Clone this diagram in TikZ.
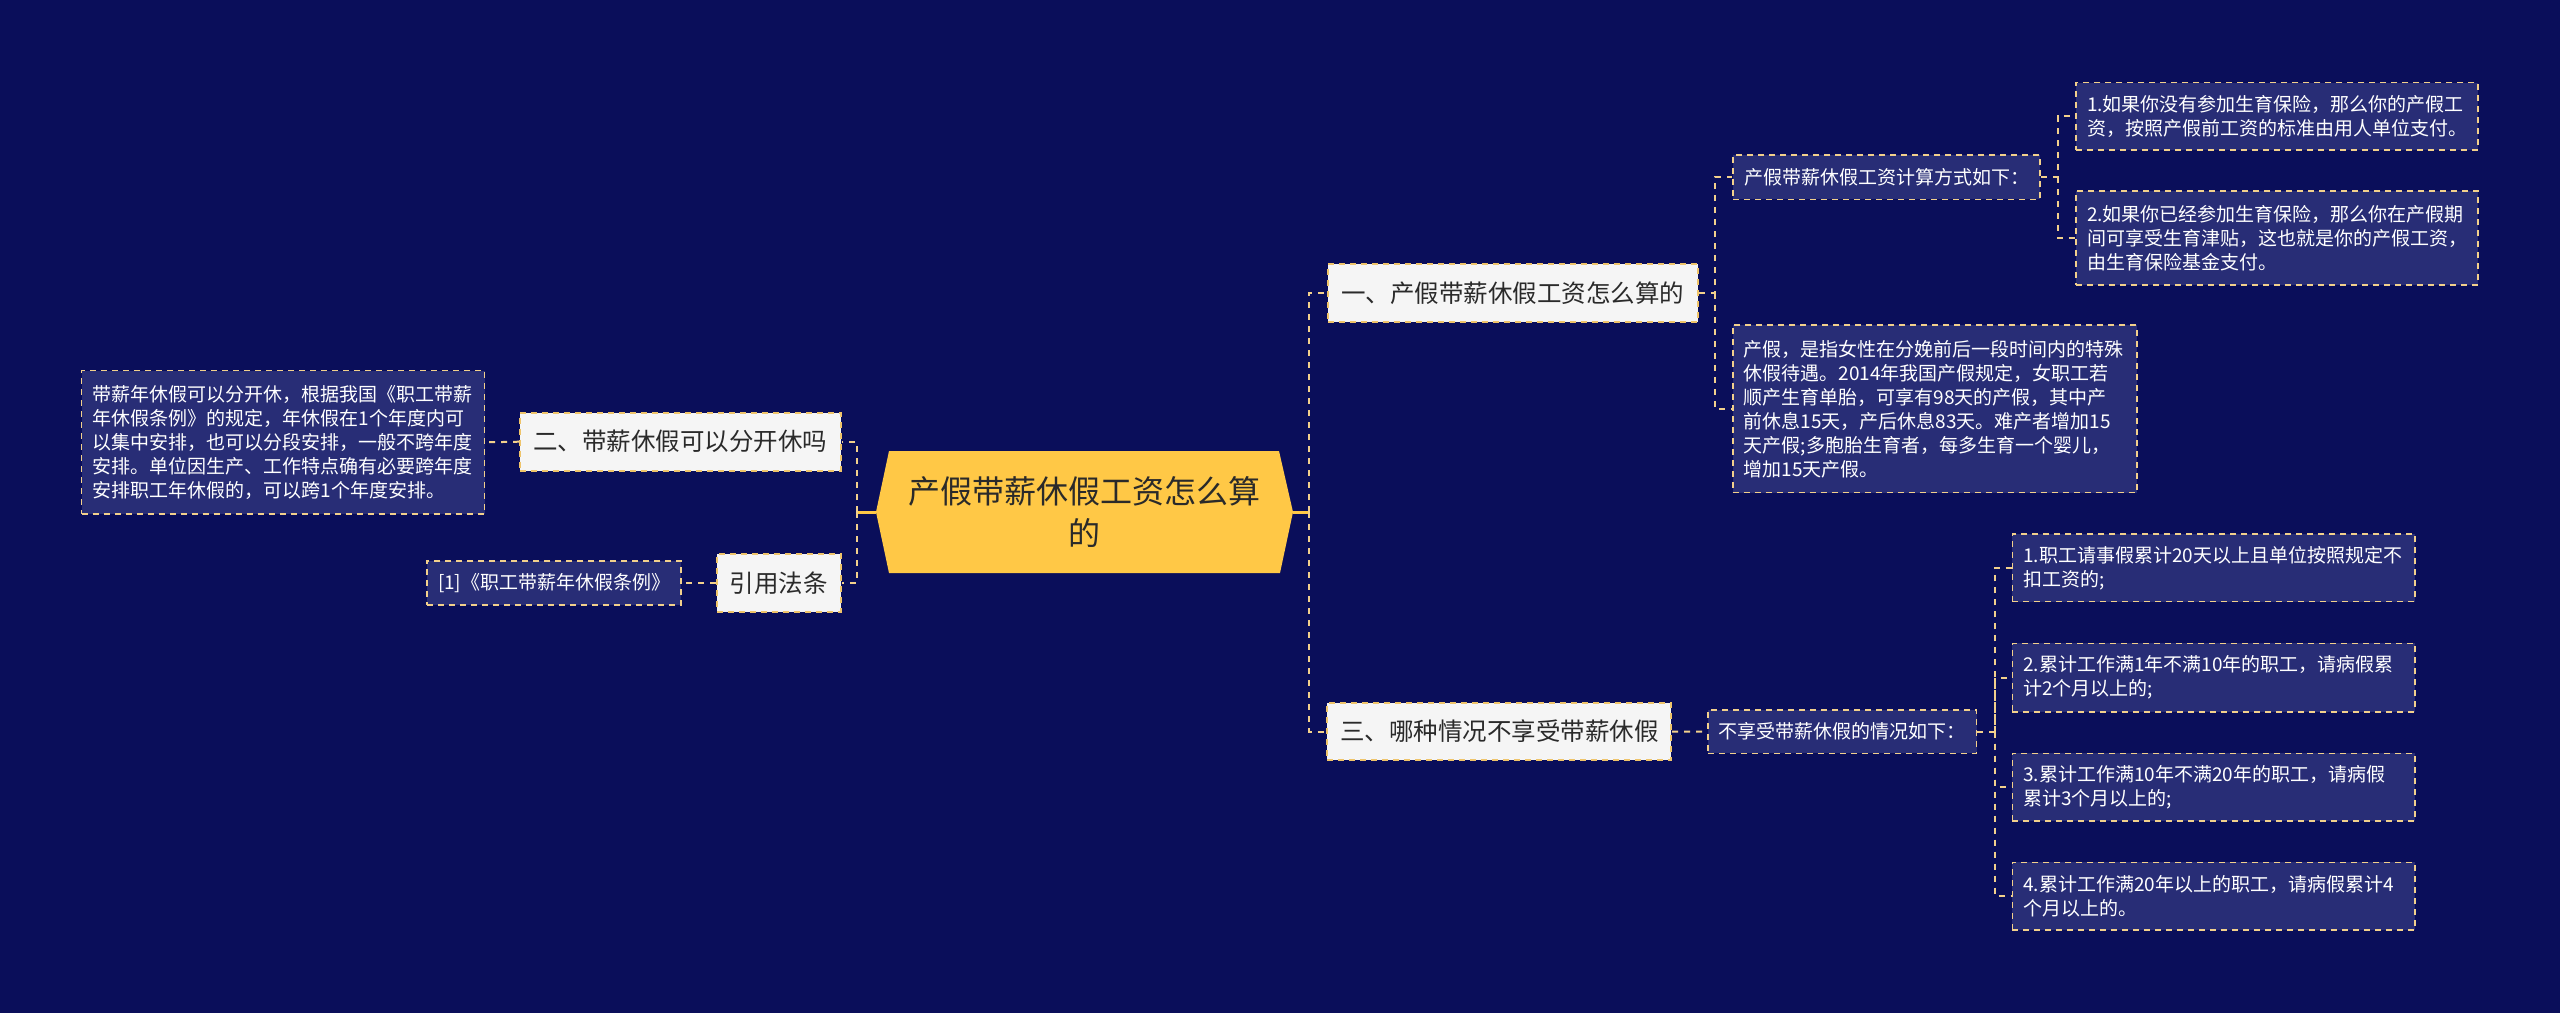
\documentclass[tikz,border=0pt]{standalone}
\usepackage{fontspec}
\setmainfont{Noto Sans CJK SC}
\usetikzlibrary{calc}
\definecolor{bg}{HTML}{0A0E5A}
\definecolor{leaffill}{HTML}{282D76}
\definecolor{linec}{HTML}{F2D08C}
\definecolor{boxline}{HTML}{EFC46A}
\definecolor{rootfill}{HTML}{FFC846}
\definecolor{midfill}{HTML}{F5F5F5}
\definecolor{darktext}{HTML}{2A2A2A}
\tikzset{
  conn/.style={draw=linec, line width=2pt, dash pattern=on 6pt off 6pt},
  solidconn/.style={draw=rootfill, line width=3pt},
  leafbox/.style={draw=linec, line width=1.6pt, dash pattern=on 6pt off 5pt, fill=leaffill,
     text=white, font=\fontsize{19}{24}\selectfont, align=left, inner xsep=11pt, inner ysep=4pt},
  midbox/.style={draw=boxline, line width=1.8pt, dash pattern=on 6pt off 5pt, fill=midfill,
     text=darktext, font=\fontsize{24.5}{30}\selectfont, inner xsep=0pt, inner ysep=0pt},
}
\begin{document}
\begin{tikzpicture}[x=1pt,y=-1pt]
\fill[bg] (0,0) rectangle (2560,1013);
\useasboundingbox (0,0) rectangle (2560,1013);

% root
\fill[rootfill] (876,512) -- (889,451) -- (1279,451) -- (1293,512) -- (1280,573) -- (889,573) -- cycle;
\node[minimum width=417pt, minimum height=122pt, inner sep=0pt, align=center, text=darktext,
  font=\fontsize{32}{41.5}\selectfont] (root) at (1084.5,512) {产假带薪休假工资怎么算\\的};

% level 1
\node[midbox, minimum width=370pt, minimum height=58pt] (n1) at (1512.8,292.9) {一、产假带薪休假工资怎么算的};
\node[midbox, minimum width=344pt, minimum height=57pt] (n3) at (1499.3,731.5) {三、哪种情况不享受带薪休假};
\node[midbox, minimum width=320.6pt, minimum height=58pt] (n2) at (680.3,441.7) {二、带薪休假可以分开休吗};
\node[midbox, minimum width=123.6pt, minimum height=57.7pt] (law) at (778.8,582.9) {引用法条};

% level 2
\node[leafbox, text width=285pt, minimum height=44.3pt] (m1) at (1886.5,177.2) {产假带薪休假工资计算方式如下：};
\node[leafbox, text width=382pt, minimum height=167.7pt] (p1) at (1934.7,408.8) {产假，是指女性在分娩前后一段时间内的特殊\\休假待遇。2014年我国产假规定，女职工若\\顺产生育单胎，可享有98天的产假，其中产\\前休息15天，产后休息83天。难产者增加15\\天产假;多胞胎生育者，每多生育一个婴儿，\\增加15天产假。};
\node[leafbox, text width=246.7pt, minimum height=43.3pt] (m3) at (1842.3,731.7) {不享受带薪休假的情况如下：};
\node[leafbox, text width=381pt, minimum height=143.3pt] (lp) at (283,442.3) {带薪年休假可以分开休，根据我国《职工带薪\\年休假条例》的规定，年休假在1个年度内可\\以集中安排，也可以分段安排，一般不跨年度\\安排。单位因生产、工作特点确有必要跨年度\\安排职工年休假的，可以跨1个年度安排。};
\node[leafbox, text width=232pt, minimum height=44.3pt] (ref) at (554,582.9) {[1]《职工带薪年休假条例》};

% level 3
\node[leafbox, text width=380pt, minimum height=67.3pt] (a1) at (2277,116.3) {1.如果你没有参加生育保险，那么你的产假工\\资，按照产假前工资的标准由用人单位支付。};
\node[leafbox, text width=380pt, minimum height=94pt] (a2) at (2277,238) {2.如果你已经参加生育保险，那么你在产假期\\间可享受生育津贴，这也就是你的产假工资，\\由生育保险基金支付。};
\node[leafbox, text width=380.7pt, minimum height=67.7pt] (b1) at (2213.7,567.8) {1.职工请事假累计20天以上且单位按照规定不\\扣工资的;};
\node[leafbox, text width=380.7pt, minimum height=68.4pt] (b2) at (2213.7,677.5) {2.累计工作满1年不满10年的职工，请病假累\\计2个月以上的;};
\node[leafbox, text width=380.7pt, minimum height=67.7pt] (b3) at (2213.7,787.2) {3.累计工作满10年不满20年的职工，请病假\\累计3个月以上的;};
\node[leafbox, text width=380.7pt, minimum height=67.7pt] (b4) at (2213.7,896.2) {4.累计工作满20年以上的职工，请病假累计4\\个月以上的。};

% bus coordinates
\coordinate (rb) at (1309,512);
\coordinate (lb) at (857,512);
\coordinate (n1b) at (1715,292.9);
\coordinate (m1b) at (2057.6,177.2);
\coordinate (m3b) at (1995,731.7);

% connectors
\draw[solidconn] (root.east) -- (rb);
\draw[solidconn] (root.west) -- (lb);
\draw[conn] (rb) |- (n1.west);
\draw[conn] (rb) |- (n3.west);
\draw[conn] (lb) |- (n2.east);
\draw[conn] (lb) |- (law.east);
\draw[conn] (n2.west) -- (lp.east);
\draw[conn] (law.west) -- (ref.east);
\draw[conn] (n1.east) -- (n1b) |- (m1.west);
\draw[conn] (n1b) |- (p1.west);
\draw[conn] (m1.east) -- (m1b) |- (a1.west);
\draw[conn] (m1b) |- (a2.west);
\draw[conn] (n3.east) -- (m3.west);
\draw[conn] (m3.east) -- (m3b) |- (b1.west);
\draw[conn] (m3b) |- (b2.west);
\draw[conn] (m3b) |- (b3.west);
\draw[conn] (m3b) |- (b4.west);
\end{tikzpicture}
\end{document}
